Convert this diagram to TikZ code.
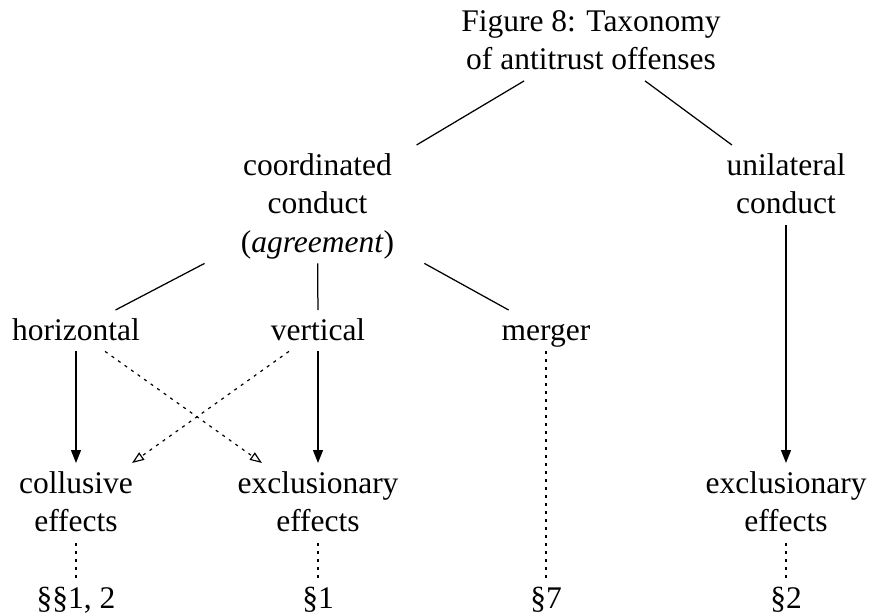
\documentclass[tikz,border=0pt]{standalone}
\usepackage{fontspec}
\setmainfont{Liberation Serif}
\usetikzlibrary{arrows.meta}
\newcommand\TopStrut{\rule{0pt}{30pt}}
\newcommand\BotStrut{\rule[-11pt]{0pt}{11pt}}
\begin{document}
\begin{tikzpicture}[x=1pt,y=-1pt,
  lbl/.style={anchor=north, align=center, inner xsep=40pt, inner ysep=0pt,
    font=\fontsize{31.5}{38.5}\selectfont},
  edge/.style={line width=1.25pt},
  solidarrow/.style={line width=1.25pt,-{Triangle[length=13pt,width=10pt]}},
  dotarrow/.style={line width=1.2pt, dash pattern=on 3pt off 5pt,
    -{Triangle[open,length=12pt,width=9pt,line width=1.2pt]}},
  dotline/.style={line width=1.2pt, dash pattern=on 3pt off 5pt}]
\useasboundingbox (0,0) rectangle (869,615);
% nodes
\node[lbl] (root) at (591,1) {\TopStrut Figure 8: Taxonomy\\ of antitrust offenses\BotStrut};
\node[lbl] (coord) at (317.5,145) {\TopStrut coordinated\\ conduct\\ (\textit{agreement})\BotStrut};
\node[lbl] (unil) at (786,145) {\TopStrut unilateral\\ conduct\BotStrut};
\node[lbl] (horiz) at (76,310) {\TopStrut horizontal\BotStrut};
\node[lbl] (vert) at (318,310) {\TopStrut vertical\BotStrut};
\node[lbl] (merger) at (546,310) {\TopStrut merger\BotStrut};
\node[lbl] (coll) at (76,463) {\TopStrut collusive\\ effects\BotStrut};
\node[lbl] (exclA) at (318,463) {\TopStrut exclusionary\\ effects\BotStrut};
\node[lbl] (exclB) at (786,463) {\TopStrut exclusionary\\ effects\BotStrut};
\node[lbl] (s12) at (76,578) {\TopStrut §§1, 2\BotStrut};
\node[lbl] (s1) at (318,578) {\TopStrut §1\BotStrut};
\node[lbl] (s7) at (546,578) {\TopStrut §7\BotStrut};
\node[lbl] (s2) at (786,578) {\TopStrut §2\BotStrut};
% edges
\draw[edge] (root) -- (coord);
\draw[edge] (root) -- (unil);
\draw[edge] (coord) -- (horiz);
\draw[edge] (coord) -- (vert);
\draw[edge] (coord) -- (merger);
\draw[solidarrow] (horiz) -- (coll);
\draw[solidarrow] (vert) -- (exclA);
\draw[solidarrow] (unil) -- (exclB);
\draw[dotarrow] (horiz) -- (exclA);
\draw[dotarrow] (vert) -- (coll);
\draw[dotline] (coll) -- (s12);
\draw[dotline] (exclA) -- (s1);
\draw[dotline] (merger) -- (s7);
\draw[dotline] (exclB) -- (s2);
\end{tikzpicture}
\end{document}
